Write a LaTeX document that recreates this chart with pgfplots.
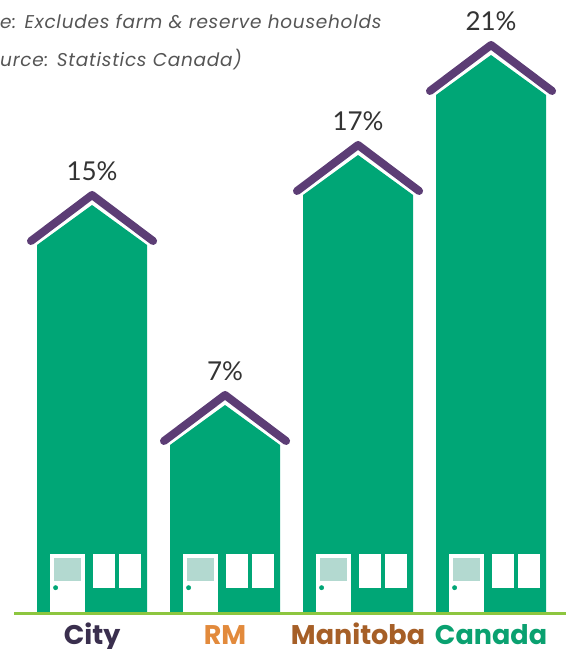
\documentclass[border=0pt]{standalone}
\usepackage{pgfplots}
\pgfplotsset{compat=1.18}
\usepackage{fontspec}
\setmainfont{Poppins}
\newfontfamily\pctfont{Lato}
\newfontfamily\labfont{Poppins}
\newfontfamily\notefont[LetterSpace=4]{Poppins}
\definecolor{hgreen}{HTML}{00A676}
\definecolor{roof}{HTML}{5C3D75}
\definecolor{dwin}{HTML}{B3D9D0}
\definecolor{ground}{HTML}{8DC63F}
\definecolor{cCity}{HTML}{3A2F4E}
\definecolor{cRM}{HTML}{E28A3C}
\definecolor{cMan}{HTML}{A65F27}
\definecolor{cCan}{HTML}{0AA170}
\definecolor{pct}{HTML}{333333}
\definecolor{note}{HTML}{555555}

\newcommand{\house}[2]{%
\pgfmathsetmacro\hxl{#1-0.4135}%
\pgfmathsetmacro\hxr{#1+0.4135}%
\pgfmathsetmacro\hyp{#2+1.6}%
\pgfmathsetmacro\rxl{#1-0.459}%
\pgfmathsetmacro\rxr{#1+0.459}%
\pgfmathsetmacro\rye{#2+0.16}%
\pgfmathsetmacro\ryp{#2+2.0}%
\pgfmathsetmacro\dxl{#1-0.316}%
\pgfmathsetmacro\dxr{#1-0.053}%
\pgfmathsetmacro\gxl{#1-0.286}%
\pgfmathsetmacro\gxr{#1-0.085}%
\pgfmathsetmacro\kx{#1-0.274}%
\pgfmathsetmacro\wal{#1+0.010}%
\pgfmathsetmacro\war{#1+0.173}%
\pgfmathsetmacro\wbl{#1+0.205}%
\pgfmathsetmacro\wbr{#1+0.368}%
\addplot[fill=hgreen, draw=none] coordinates {(\hxl,0.32) (\hxl,#2) (#1,\hyp) (\hxr,#2) (\hxr,0.32)};
\addplot[draw=roof, line width=8pt, line cap=round, line join=round] coordinates {(\rxl,\rye) (#1,\ryp) (\rxr,\rye)};
\addplot[fill=white, draw=none] coordinates {(\dxl,0.32) (\dxl,2.64) (\dxr,2.64) (\dxr,0.32)};
\addplot[fill=dwin, draw=none] coordinates {(\gxl,1.572) (\gxl,2.468) (\gxr,2.468) (\gxr,1.572)};
\addplot[fill=white, draw=none] coordinates {(\wal,1.292) (\wal,2.64) (\war,2.64) (\war,1.292)};
\addplot[fill=white, draw=none] coordinates {(\wbl,1.292) (\wbl,2.64) (\wbr,2.64) (\wbr,1.292)};
\addplot[only marks, mark=*, mark size=2.2pt, hgreen] coordinates {(\kx,1.292)};
}

\begin{document}
\begin{tikzpicture}
\begin{axis}[
  x=133pt, y=25pt,
  xmin=-0.692, xmax=3.564, ymin=-1.16, ymax=24.8,
  axis line style={draw=none}, tick style={draw=none},
  ytick=\empty, xtick={0,1,2,3},
  xticklabels={{\color{cCity}City},{\color{cRM}RM},{\color{cMan}Manitoba},{\color{cCan}Canada}},
  xticklabel style={anchor=base, yshift=5pt, inner sep=0pt, font=\labfont\bfseries\fontsize{27}{30}\selectfont},
  /pgf/number format/assume math mode=true,
  clip=false,
]
\addplot[draw=ground, line width=3pt] coordinates {(-0.586,0.26) (3.564,0.26)};
\house{0}{15}
\house{1}{7}
\house{2}{17}
\house{3}{21}
\addplot[draw=none, point meta=y,
  nodes near coords={\pgfmathprintnumber{\pgfplotspointmeta}\%},
  every node near coord/.append style={anchor=base, yshift=64pt, inner sep=0pt, text=pct, font=\pctfont\fontsize{26}{30}\selectfont}]
  coordinates {(0,15) (1,7) (2,17) (3,21)};
\node[anchor=base west, inner sep=0pt, text=note, font=\notefont\itshape\fontsize{18.5}{20}\selectfont] at (axis cs:-0.692,23.668) {e: Excludes farm \& reserve households};
\node[anchor=base west, inner sep=0pt, text=note, font=\notefont\itshape\fontsize{18.5}{20}\selectfont] at (axis cs:-0.692,22.14) {urce: Statistics Canada)};
\end{axis}
\pgfresetboundingbox
\path[use as bounding box] (current axis.south west) rectangle (current axis.north east);
\end{tikzpicture}
\end{document}
